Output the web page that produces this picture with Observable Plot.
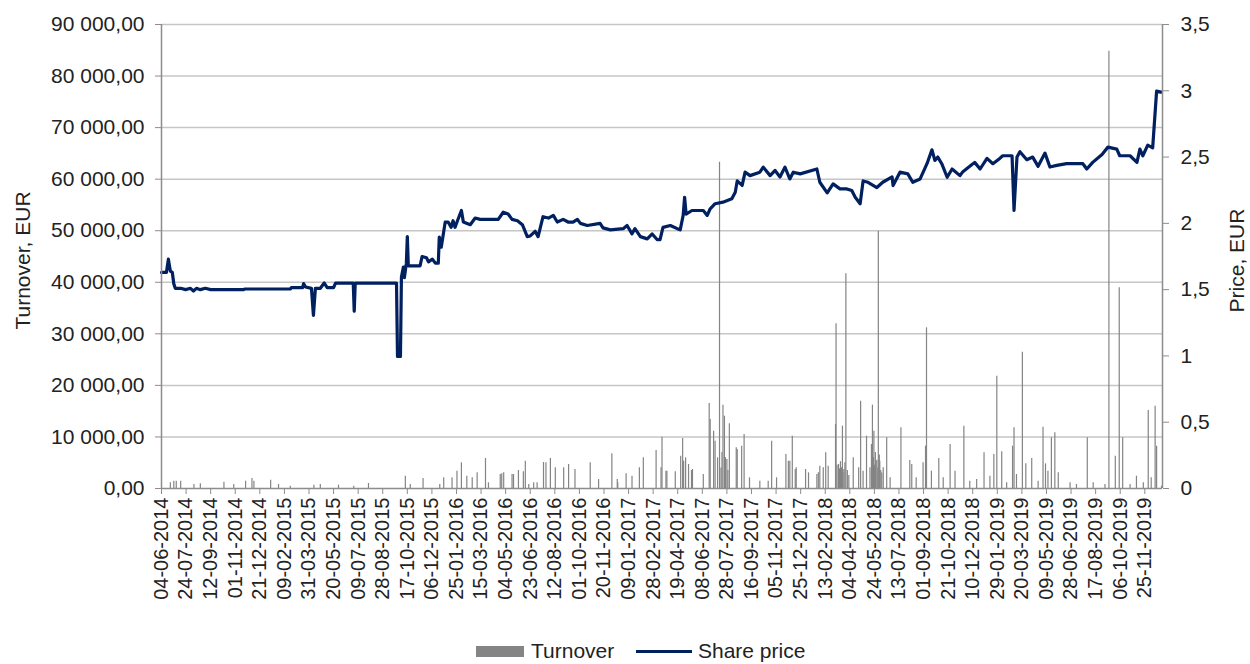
<!DOCTYPE html>
<html>
<head>
<meta charset="utf-8">
<script src="https://cdn.jsdelivr.net/npm/d3@7"></script>
<script src="https://cdn.jsdelivr.net/npm/@observablehq/plot@0.6"></script>
<style>
  body { margin: 0; background: #fff; font-family: "Liberation Sans", Arial, sans-serif; }
  #chart svg { display: block; }
  .legend { position: relative; height: 34px; font-size: 21px; color: #222; }
  .legend .item { position: absolute; top: 6px; display: flex; align-items: center; height: 30px; }
  .legend .sw-bar { width: 48px; height: 11px; background: #848484; margin-right: 7px; }
  .legend .sw-line { width: 56px; height: 3px; background: #002060; margin-right: 6px; }
</style>
</head>
<body>
<div id="chart"></div>
<div class="legend">
  <div class="item" style="left:476px"><div class="sw-bar"></div><span>Turnover</span></div>
  <div class="item" style="left:636px"><div class="sw-line"></div><span>Share price</span></div>
</div>
<script>
// Base date of the x axis (first tick)
const baseDate = "2014-06-04";
const endDate = "2019-12-31";
const tickStepDays = 50;
const tickCount = 41;

// Share price: day offsets from 2014-06-04 and price in EUR
const priceDay = [0,10,14,18,22,25,28,39,49,59,65,71,79,89,100,167,169,262,264,287,289,293,305,309,313,323,331,337,350,354,390,392,394,478,480,486,488,492,494,498,500,502,512,526,530,539,543,551,557,563,565,569,577,583,589,593,597,602,610,614,628,638,648,685,695,705,713,724,734,744,750,760,766,776,787,797,805,817,827,837,846,852,866,892,898,913,939,947,957,963,974,988,998,1008,1014,1020,1035,1049,1055,1061,1064,1067,1079,1102,1110,1116,1126,1142,1160,1167,1171,1181,1187,1197,1217,1224,1238,1248,1258,1268,1278,1285,1299,1333,1339,1354,1366,1380,1394,1404,1411,1421,1427,1437,1455,1467,1486,1488,1502,1518,1528,1543,1557,1567,1573,1579,1587,1598,1608,1624,1630,1644,1654,1665,1679,1691,1705,1711,1730,1734,1740,1746,1760,1772,1783,1797,1807,1821,1841,1874,1882,1894,1913,1925,1943,1949,1970,1984,1990,1996,2006,2016,2024,2033];
const priceValue = [1.63,1.63,1.73,1.64,1.63,1.545,1.51,1.51,1.50,1.51,1.49,1.51,1.50,1.51,1.50,1.50,1.505,1.505,1.515,1.515,1.545,1.52,1.51,1.305,1.51,1.51,1.55,1.515,1.515,1.549,1.549,1.337,1.549,1.549,0.996,0.996,1.594,1.67,1.59,1.70,1.90,1.68,1.68,1.68,1.75,1.74,1.71,1.73,1.70,1.70,1.896,1.82,2.009,2.01,1.97,2.02,1.97,2.02,2.097,2.01,1.99,2.04,2.03,2.03,2.084,2.07,2.03,2.02,1.99,1.90,1.905,1.94,1.90,2.05,2.04,2.06,2.01,2.03,2.01,2.009,2.03,2.00,1.984,2.00,1.966,1.951,1.96,1.984,1.921,1.96,1.90,1.883,1.92,1.878,1.878,1.97,1.984,1.96,1.951,2.059,2.197,2.07,2.097,2.097,2.06,2.11,2.148,2.16,2.185,2.235,2.32,2.286,2.386,2.36,2.386,2.424,2.36,2.399,2.35,2.424,2.335,2.386,2.373,2.41,2.31,2.23,2.298,2.26,2.26,2.247,2.197,2.148,2.32,2.31,2.27,2.31,2.35,2.285,2.386,2.373,2.31,2.335,2.45,2.555,2.475,2.50,2.45,2.348,2.41,2.36,2.39,2.43,2.46,2.41,2.49,2.45,2.49,2.51,2.51,2.097,2.50,2.54,2.48,2.50,2.43,2.53,2.425,2.437,2.45,2.45,2.41,2.46,2.52,2.575,2.56,2.51,2.51,2.46,2.56,2.51,2.59,2.57,2.997,2.99];

// Turnover: day offsets from 2014-06-04 and daily turnover in EUR
const turnoverDay = [18,25,30,39,66,79,127,147,171,184,188,222,238,262,310,323,360,391,421,496,506,532,566,574,591,601,610,621,632,642,659,665,689,692,696,713,716,726,736,740,747,757,764,777,782,791,801,818,828,841,872,889,916,927,928,945,957,972,980,1006,1016,1018,1026,1028,1045,1056,1060,1062,1066,1072,1078,1080,1102,1114,1116,1123,1126,1131,1135,1138,1140,1142,1145,1147,1150,1152,1155,1169,1171,1180,1185,1196,1217,1234,1241,1251,1270,1275,1278,1283,1289,1291,1310,1316,1333,1336,1339,1346,1351,1356,1371,1372,1374,1377,1379,1381,1383,1385,1386,1388,1390,1392,1395,1398,1407,1418,1422,1427,1434,1441,1444,1446,1448,1449,1450,1452,1453,1455,1457,1458,1460,1461,1463,1465,1468,1475,1482,1504,1522,1526,1535,1549,1554,1556,1566,1581,1590,1604,1614,1632,1644,1658,1673,1685,1693,1699,1709,1719,1731,1734,1739,1751,1758,1770,1783,1793,1798,1803,1810,1817,1824,1848,1861,1883,1895,1919,1927,1940,1948,1955,1970,1983,1997,2007,2013,2021,2024,2034];
const turnoverValue = [1100,1420,1420,1420,780,900,1230,780,1420,1940,1420,1620,780,450,650,780,650,450,970,2390,780,1940,780,2070,2070,3360,4980,2390,2070,3040,5820,1100,2720,2850,3040,2720,2720,3490,3230,5300,780,1100,1100,5040,4980,5820,4010,4010,4660,3690,4980,1750,6720,1750,1100,2850,2390,4010,5950,7370,4010,9960,3360,3360,3230,6270,9700,5300,5950,4660,3490,3690,2720,16490,13380,11120,9180,5950,63300,4000,7000,16170,14030,6000,5630,3500,12540,7890,7560,8210,10470,2070,1420,1420,9180,2070,6600,5300,5300,10150,3690,4010,3690,3040,2720,3040,4330,4010,6920,4330,12410,31940,4500,4660,3800,5200,4000,12090,3000,3690,5000,41640,3500,2500,5950,4010,16940,3360,10150,4010,8540,16170,6000,11120,4500,7000,5300,5500,4000,49920,6500,5300,3500,3000,4010,9830,2070,11770,5430,4660,2070,4980,8210,31170,3360,5820,2070,8540,3360,12090,1420,1750,6920,2390,6600,21790,7110,1100,8210,11770,2720,26450,4780,5820,1420,11900,4780,3360,9830,10800,3040,1100,780,9830,1100,780,84830,6270,38930,9830,780,2390,1100,15130,2070,15970,8210,450];

// Axis ticks
const turnoverTicks = [0,10000,20000,30000,40000,50000,60000,70000,80000,90000];
const priceTicks = [0,0.5,1,1.5,2,2.5,3,3.5];

const turnoverMax = 90000, priceMax = 3.5;
const k = turnoverMax / priceMax;

const base = new Date(baseDate + "T00:00:00Z");
const end = new Date(endDate + "T00:00:00Z");
const dayToDate = n => d3.utcDay.offset(base, n);

const price = priceDay.map((d, i) => ({date: dayToDate(d), p: priceValue[i]}));
const turnover = turnoverDay.map((d, i) => ({date: dayToDate(d), v: turnoverValue[i]}));
const xTicks = d3.range(tickCount).map(i => dayToDate(i * tickStepDays));

const loc = d3.formatLocale({decimal: ",", thousands: " ", grouping: [3], currency: ["", ""]});
const fmtTurnover = loc.format(",.2f");
const fmtPrice = v => String(Math.round(v / k * 10) / 10).replace(".", ",");
const fmtDate = d3.utcFormat("%d-%m-%Y");

const axisGray = "#8c8c8c";
const textCol = "#222";

const chart = Plot.plot({
  width: 1250,
  height: 630,
  marginTop: 24,
  marginBottom: 142,
  marginLeft: 161,
  marginRight: 88,
  style: {fontFamily: '"Liberation Sans", Arial, sans-serif', fontSize: "20px", color: textCol, background: "#fff"},
  x: {type: "utc", domain: [base, end]},
  y: {domain: [0, turnoverMax], nice: false},
  marks: [
    Plot.gridY(turnoverTicks.slice(1), {stroke: "#c6c6c6", strokeOpacity: 1, strokeWidth: 1.5}),
    Plot.ruleX(turnover, {x: "date", y1: 0, y2: "v", stroke: "#848484", strokeWidth: 1.2}),
    Plot.line(price, {x: "date", y: d => d.p * k, stroke: "#002060", strokeWidth: 3.2, strokeLinejoin: "round", strokeLinecap: "round"}),
    Plot.ruleY([0], {stroke: axisGray, strokeWidth: 1.5}),
    Plot.ruleX([base, end], {stroke: axisGray, strokeWidth: 1.5}),
    Plot.axisY(turnoverTicks, {anchor: "left", tickFormat: fmtTurnover, tickSize: 6, tickPadding: 11, fontSize: 21, stroke: axisGray, fill: textCol, label: null}),
    Plot.axisY(priceTicks.map(p => p * k), {anchor: "right", tickFormat: fmtPrice, tickSize: 6, tickPadding: 12, fontSize: 21, stroke: axisGray, fill: textCol, label: null}),
    Plot.axisX(xTicks, {anchor: "bottom", tickFormat: fmtDate, tickRotate: -90, tickSize: 6, tickPadding: 3, fontSize: 20, stroke: axisGray, fill: textCol, label: null}),
    Plot.text(["Turnover, EUR"], {frameAnchor: "left", dx: -138, dy: 4, rotate: -90, text: d => d, fontSize: 21, fill: textCol, textAnchor: "middle", lineAnchor: "middle"}),
    Plot.text(["Price, EUR"], {frameAnchor: "right", dx: 75, dy: 4, rotate: -90, text: d => d, fontSize: 21, fill: textCol, textAnchor: "middle", lineAnchor: "middle"})
  ]
});
document.getElementById("chart").appendChild(chart);
</script>
</body>
</html>
